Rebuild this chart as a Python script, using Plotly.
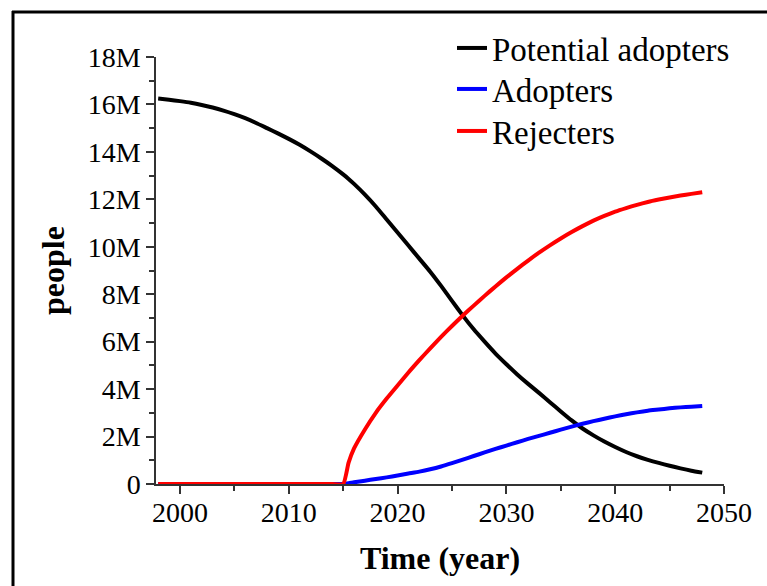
import plotly.graph_objects as go
import numpy as np

# ---- data (values in millions of people) ----
years = [1998, 1999, 2000, 2001, 2002, 2003, 2004, 2005, 2006, 2007, 2008, 2009,
         2010, 2011, 2012, 2013, 2014, 2015, 2015.5, 2016, 2017, 2018, 2019, 2020,
         2021, 2022, 2023, 2024, 2025, 2026, 2027, 2028, 2029, 2030, 2031, 2032,
         2033, 2034, 2035, 2036, 2037, 2038, 2039, 2040, 2041, 2042, 2043, 2044,
         2045, 2046, 2047, 2048]

potential_m = [16.25, 16.2, 16.14, 16.07, 15.98, 15.87, 15.74, 15.59, 15.42, 15.22,
               15.0, 14.78, 14.55, 14.3, 14.02, 13.72, 13.4, 13.05, 12.86, 12.65,
               12.2, 11.7, 11.15, 10.6, 10.05, 9.5, 8.95, 8.35, 7.72, 7.1, 6.52,
               6.0, 5.5, 5.05, 4.62, 4.22, 3.84, 3.45, 3.06, 2.68, 2.34, 2.05, 1.79,
               1.56, 1.35, 1.17, 1.02, 0.89, 0.77, 0.66, 0.56, 0.48]

adopters_m = [0, 0, 0, 0, 0, 0, 0, 0, 0, 0, 0, 0, 0, 0, 0, 0, 0, 0,
              0.03, 0.07, 0.14, 0.21, 0.28, 0.36, 0.44, 0.52, 0.62, 0.74, 0.88,
              1.03, 1.18, 1.33, 1.48, 1.62, 1.76, 1.9, 2.03, 2.16, 2.29, 2.42,
              2.54, 2.65, 2.75, 2.85, 2.94, 3.02, 3.09, 3.14, 3.19, 3.23, 3.26, 3.29]

rejecters_m = [0, 0, 0, 0, 0, 0, 0, 0, 0, 0, 0, 0, 0, 0, 0, 0, 0, 0,
               0.9, 1.5, 2.3, 3.0, 3.6, 4.15, 4.7, 5.22, 5.72, 6.2, 6.66, 7.1,
               7.52, 7.93, 8.33, 8.71, 9.07, 9.42, 9.75, 10.06, 10.35, 10.62,
               10.87, 11.1, 11.3, 11.48, 11.63, 11.77, 11.89, 11.99, 12.08,
               12.16, 12.23, 12.3]

series_names = ["Potential adopters", "Adopters", "Rejecters"]
series_colors = ["#000000", "#0000FF", "#FF0000"]

x_title = "Time (year)"
y_title = "people"

# ---- figure ----
W, H = 767, 586
PL, PR, PT, PB = 156, 724, 57, 484   # plot area in page pixels
L, T, R, B = PL, PT, W - PR, H - PB
FONT = "Liberation Serif, Times New Roman, serif"

pw = PR - PL
ph = PB - PT

def px_x(p):
    return (p - PL) / pw

def px_y(p):
    return (PB - p) / ph

legend_ids = ["legend", "legend2", "legend3"]
legend_rows = [48, 89, 131]

fig = go.Figure()
for name, vals, col, lid in zip(series_names, [potential_m, adopters_m, rejecters_m],
                                series_colors, legend_ids):
    fig.add_trace(go.Scatter(
        x=years, y=np.array(vals) * 1e6, mode="lines", name=name,
        line=dict(color=col, width=4, shape="spline", smoothing=0.5),
        legend=lid,
    ))

# outer frame (left and top edges)
fig.add_shape(type="line", xref="paper", yref="paper",
              x0=px_x(13), x1=px_x(13), y0=px_y(11), y1=px_y(600),
              line=dict(color="black", width=3))
fig.add_shape(type="line", xref="paper", yref="paper",
              x0=px_x(12), x1=px_x(780), y0=px_y(12), y1=px_y(12),
              line=dict(color="black", width=3))

legend_style = dict(
    xanchor="left", yanchor="middle",
    font=dict(family=FONT, size=33, color="black"),
    bgcolor="rgba(0,0,0,0)", borderwidth=0,
)
legends = {}
for lid, row in zip(legend_ids, legend_rows):
    legends[lid] = dict(x=px_x(452), y=px_y(row), **legend_style)

fig.update_layout(
    width=W, height=H,
    margin=dict(l=L, r=R, t=T, b=B, pad=0),
    paper_bgcolor="white", plot_bgcolor="white",
    font=dict(family=FONT, color="black", size=27),
    showlegend=True,
    **legends,
)

fig.update_xaxes(
    range=[1997.8, 2050], tickmode="linear", tick0=2000, dtick=10,
    showline=True, linecolor="#333333", linewidth=1.5,
    ticks="outside", ticklen=8, tickwidth=1.5, tickcolor="#333333",
    minor=dict(dtick=5, tick0=2000, ticks="outside", ticklen=5, tickwidth=1.5, tickcolor="#333333"),
    showgrid=False, zeroline=False,
    tickfont=dict(family=FONT, size=28, color="black"),
    ticklabelstandoff=-5,
    title=dict(text="<b>" + x_title + "</b>", font=dict(family=FONT, size=32, color="black"), standoff=19),
)
fig.update_yaxes(
    range=[0, 18e6], tickmode="linear", tick0=0, dtick=2e6, tickformat="~s",
    showline=True, linecolor="#333333", linewidth=1.5,
    ticks="outside", ticklen=8, tickwidth=1.5, tickcolor="#333333",
    minor=dict(dtick=1e6, ticks="outside", ticklen=5, tickwidth=1.5, tickcolor="#333333"),
    showgrid=False, zeroline=False,
    tickfont=dict(family=FONT, size=28, color="black"),
    title=dict(text="<b>" + y_title + "</b>", font=dict(family=FONT, size=32, color="black"), standoff=14),
)

fig.write_html(
    "out.html",
    config={"displayModeBar": False},
    post_script="document.body.style.margin='0';document.body.style.overflow='hidden';",
)
